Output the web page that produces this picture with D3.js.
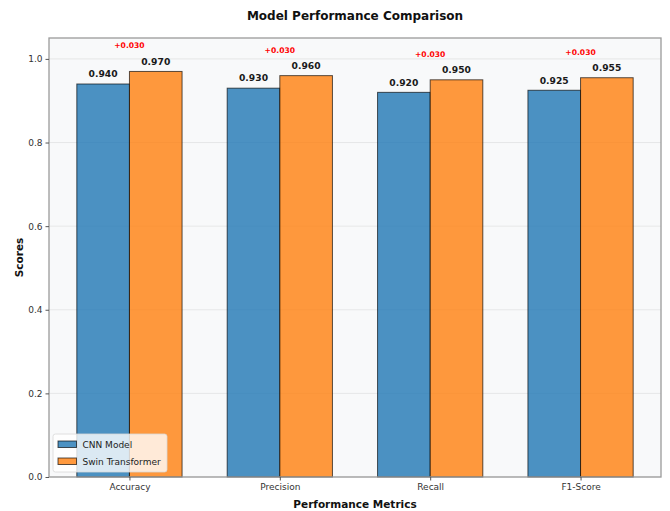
<!DOCTYPE html>
<html>
<head>
<meta charset="utf-8">
<script src="https://cdn.jsdelivr.net/npm/d3@7"></script>
<style>
  html, body { margin: 0; padding: 0; background: #ffffff; }
  svg { display: block; font-family: "DejaVu Sans", sans-serif; }
</style>
</head>
<body>
<svg id="chart" width="670" height="511"></svg>
<script>
// Metric names along the x axis
const metrics = ["Accuracy", "Precision", "Recall", "F1-Score"];
// Scores for each model
const cnnScores = [0.940, 0.930, 0.920, 0.925];
const swinScores = [0.970, 0.960, 0.950, 0.955];
// Series names and y tick values
const seriesNames = ["CNN Model", "Swin Transformer"];
const yTicks = [0.0, 0.2, 0.4, 0.6, 0.8, 1.0];

const svg = d3.select("#chart");
const W = 670, H = 511;
const plot = { left: 49, right: 661, top: 38, bottom: 477 };
const barW = 0.35;
const colors = ["#1f77b4", "#ff7f0e"];

const x = d3.scaleLinear().domain([-0.535, metrics.length - 1 + 0.535]).range([plot.left, plot.right]);
const y = d3.scaleLinear().domain([0, 1.05]).range([plot.bottom, plot.top]);

// plot background
svg.append("rect")
  .attr("x", plot.left).attr("y", plot.top)
  .attr("width", plot.right - plot.left).attr("height", plot.bottom - plot.top)
  .attr("fill", "#f8f9fa");

// horizontal grid
svg.append("g").selectAll("line").data(yTicks).join("line")
  .attr("x1", plot.left).attr("x2", plot.right)
  .attr("y1", d => y(d)).attr("y2", d => y(d))
  .attr("stroke", "#b0b0b0").attr("stroke-opacity", 0.3).attr("stroke-width", 0.8);

// bars
const series = [cnnScores, swinScores];
series.forEach((vals, s) => {
  const offset = s === 0 ? -barW / 2 : barW / 2;
  svg.append("g").selectAll("rect").data(vals).join("rect")
    .attr("x", (d, i) => x(i + offset - barW / 2))
    .attr("width", x(barW) - x(0))
    .attr("y", d => y(d))
    .attr("height", d => y(0) - y(d))
    .attr("fill", colors[s]).attr("fill-opacity", 0.8)
    .attr("stroke", "#000").attr("stroke-opacity", 0.65).attr("stroke-width", 1);

  // value labels
  svg.append("g").selectAll("text").data(vals).join("text")
    .attr("x", (d, i) => x(i + offset))
    .attr("y", d => y(d + 0.016))
    .attr("text-anchor", "middle")
    .attr("font-size", 9.2).attr("font-weight", "bold").attr("fill", "#1a1a1a")
    .text(d => d.toFixed(3));
});

// improvement annotations
svg.append("g").selectAll("text").data(metrics).join("text")
  .attr("x", (d, i) => x(i))
  .attr("y", (d, i) => y(Math.max(cnnScores[i], swinScores[i]) + 0.055))
  .attr("text-anchor", "middle")
  .attr("font-size", 7.6).attr("font-weight", "bold").attr("fill", "#ff0000")
  .text((d, i) => {
    const diff = swinScores[i] - cnnScores[i];
    return (diff >= 0 ? "+" : "") + diff.toFixed(3);
  });

// frame
svg.append("rect")
  .attr("x", plot.left).attr("y", plot.top)
  .attr("width", plot.right - plot.left).attr("height", plot.bottom - plot.top)
  .attr("fill", "none").attr("stroke", "#9a9a9a").attr("stroke-width", 1.3);

// axes
const yAxis = d3.axisLeft(y).tickValues(yTicks).tickFormat(d3.format(".1f")).tickSizeOuter(0).tickSize(3.5).tickPadding(3);
const gy = svg.append("g").attr("transform", `translate(${plot.left},0)`).call(yAxis);
const xAxis = d3.axisBottom(x).tickValues(d3.range(metrics.length)).tickFormat(i => metrics[i]).tickSizeOuter(0).tickSize(3.5).tickPadding(3);
const gx = svg.append("g").attr("transform", `translate(0,${plot.bottom})`).call(xAxis);
[gx, gy].forEach(g => {
  g.select(".domain").remove();
  g.selectAll(".tick line").attr("stroke", "#555");
  g.selectAll(".tick text").attr("font-size", 9).attr("fill", "#333").attr("font-family", "DejaVu Sans");
});

// title and axis labels
svg.append("text").attr("x", (plot.left + plot.right) / 2).attr("y", 20)
  .attr("text-anchor", "middle").attr("font-size", 12).attr("font-weight", "bold").attr("fill", "#111")
  .text("Model Performance Comparison");
svg.append("text").attr("x", (plot.left + plot.right) / 2).attr("y", 508)
  .attr("text-anchor", "middle").attr("font-size", 10.5).attr("font-weight", "bold").attr("fill", "#111")
  .text("Performance Metrics");
svg.append("text").attr("transform", `translate(23,${(plot.top + plot.bottom) / 2}) rotate(-90)`)
  .attr("text-anchor", "middle").attr("font-size", 10.5).attr("font-weight", "bold").attr("fill", "#111")
  .text("Scores");

// legend
const lg = svg.append("g").attr("transform", "translate(53,434)");
lg.append("rect").attr("width", 114).attr("height", 38).attr("rx", 2.5)
  .attr("fill", "#ffffff").attr("fill-opacity", 0.8)
  .attr("stroke", "#d8d8d8").attr("stroke-width", 0.8);
seriesNames.forEach((name, s) => {
  const row = lg.append("g").attr("transform", `translate(5,${7 + s * 17})`);
  row.append("rect").attr("width", 18.5).attr("height", 6.5)
    .attr("fill", colors[s]).attr("fill-opacity", 0.8)
    .attr("stroke", "#000").attr("stroke-opacity", 0.65).attr("stroke-width", 1);
  row.append("text").attr("x", 24.5).attr("y", 6.5)
    .attr("font-size", 9).attr("fill", "#222").text(name);
});
</script>
</body>
</html>
